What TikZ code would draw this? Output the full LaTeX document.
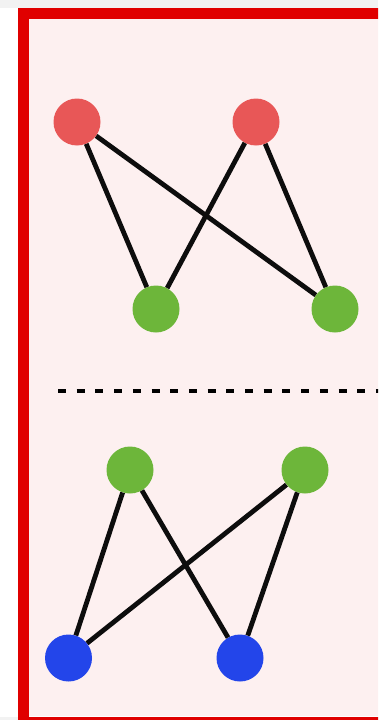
\documentclass[tikz,border=0pt]{standalone}
\begin{document}
\begin{tikzpicture}[x=1pt,y=-1pt,
  dot/.style={circle,minimum size=47pt,inner sep=0pt,draw=none},
  rdot/.style={dot,fill=nodered},
  gdot/.style={dot,fill=nodegreen},
  bdot/.style={dot,fill=nodeblue},
  link/.style={line width=4.8pt,draw=black!95}]
\definecolor{nodered}{HTML}{E85757}
\definecolor{nodegreen}{HTML}{6DB63A}
\definecolor{nodeblue}{HTML}{2345EA}
\definecolor{frame}{HTML}{E00000}
\definecolor{panel}{HTML}{FDF0F0}
\useasboundingbox (0,0) rectangle (378,720);
\clip (0,0) rectangle (378,720);
\fill[white] (0,0) rectangle (378,720);
\fill[black!5] (0,0) rectangle (378,8);
\fill[black!5] (0,717) rectangle (18,720);
\fill[panel] (23.5,13.5) rectangle (400,716);
\draw[frame,line width=11pt] (23.5,13.5) rectangle (400,722);
% top group
\node[rdot] (r1) at (77,122) {};
\node[rdot] (r2) at (256,122) {};
\node[gdot] (g1) at (156,309) {};
\node[gdot] (g2) at (335,309) {};
\draw[link] (r1) -- (g1);
\draw[link] (r1) -- (g2);
\draw[link] (r2) -- (g1);
\draw[link] (r2) -- (g2);
% separator
\coordinate (s1) at (58,391);
\coordinate (s2) at (380,391);
\draw[line width=4pt,dash pattern=on 8pt off 10.7pt] (s1) -- (s2);
% bottom group
\node[gdot] (g3) at (130,470) {};
\node[gdot] (g4) at (305,470) {};
\node[bdot] (b1) at (68.5,658) {};
\node[bdot] (b2) at (240,658) {};
\draw[link] (g3) -- (b1);
\draw[link] (g3) -- (b2);
\draw[link] (g4) -- (b1);
\draw[link] (g4) -- (b2);
\end{tikzpicture}
\end{document}
